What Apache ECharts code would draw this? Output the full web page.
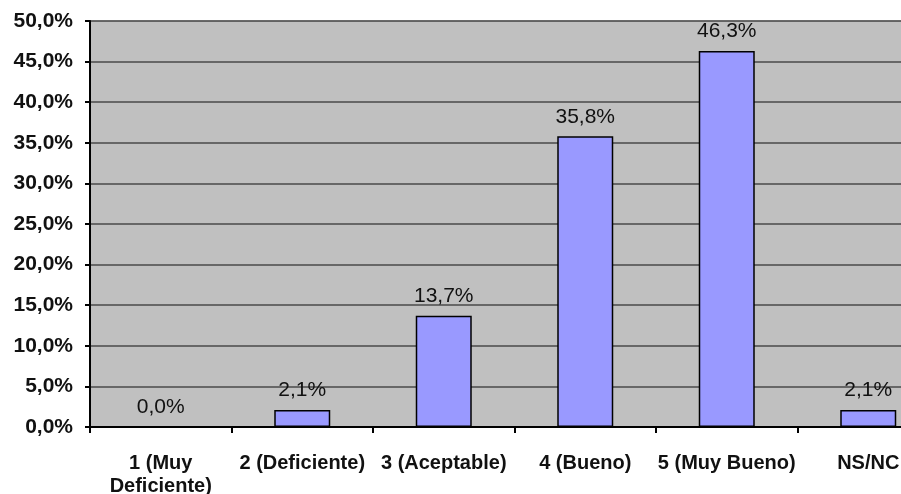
<!DOCTYPE html>
<html>
<head>
<meta charset="utf-8">
<script src="https://cdn.jsdelivr.net/npm/echarts@6/dist/echarts.min.js"></script>
<style>
  html, body { margin: 0; padding: 0; background: #fff; }
  #chart { width: 901px; height: 494px; }
</style>
</head>
<body>
<div id="chart"></div>
<script>
const categories = ['1 (Muy\nDeficiente)', '2 (Deficiente)', '3 (Aceptable)', '4 (Bueno)', '5 (Muy Bueno)', 'NS/NC']
const percentages = [0.0, 2.1, 13.7, 35.8, 46.3, 2.1]

const fmt = v => v.toFixed(1).replace('.', ',') + '%'

const chart = echarts.init(document.getElementById('chart'))

chart.setOption({
  animation: false,
  textStyle: { fontFamily: 'Liberation Sans, Arial, sans-serif' },
  grid: {
    left: 90,
    top: 21,
    width: 849,
    bottom: 67,
    outerBoundsMode: 'none',
    containLabel: false,
    show: true,
    backgroundColor: '#c0c0c0',
    borderColor: '#9a9a9a',
    borderWidth: 1,
  },
  xAxis: {
    type: 'category',
    data: categories,
    axisLine: { lineStyle: { color: '#000', width: 2 } },
    axisTick: { show: true, length: 6, lineStyle: { color: '#000', width: 2 } },
    axisLabel: {
      color: '#111',
      fontSize: 20,
      fontWeight: 'bold',
      margin: 25,
      lineHeight: 23,
      interval: 0,
    },
  },
  yAxis: {
    type: 'value',
    min: 0,
    max: 50,
    interval: 5,
    axisLine: { show: true, lineStyle: { color: '#000', width: 2 } },
    axisTick: { show: true, length: 5, lineStyle: { color: '#000', width: 2 } },
    axisLabel: {
      color: '#111',
      fontSize: 21,
      fontWeight: 'bold',
      margin: 17,
      formatter: v => fmt(v),
    },
    splitLine: { lineStyle: { color: '#4a4a4a', width: 1.5 } },
  },
  series: [
    {
      type: 'bar',
      data: percentages,
      barWidth: 56,
      itemStyle: { color: '#9999ff', borderColor: '#000', borderWidth: 1.5 },
      label: {
        show: true,
        position: 'top',
        distance: 9,
        color: '#111',
        fontSize: 21,
        formatter: p => fmt(p.value),
      },
    },
  ],
})
</script>
</body>
</html>
